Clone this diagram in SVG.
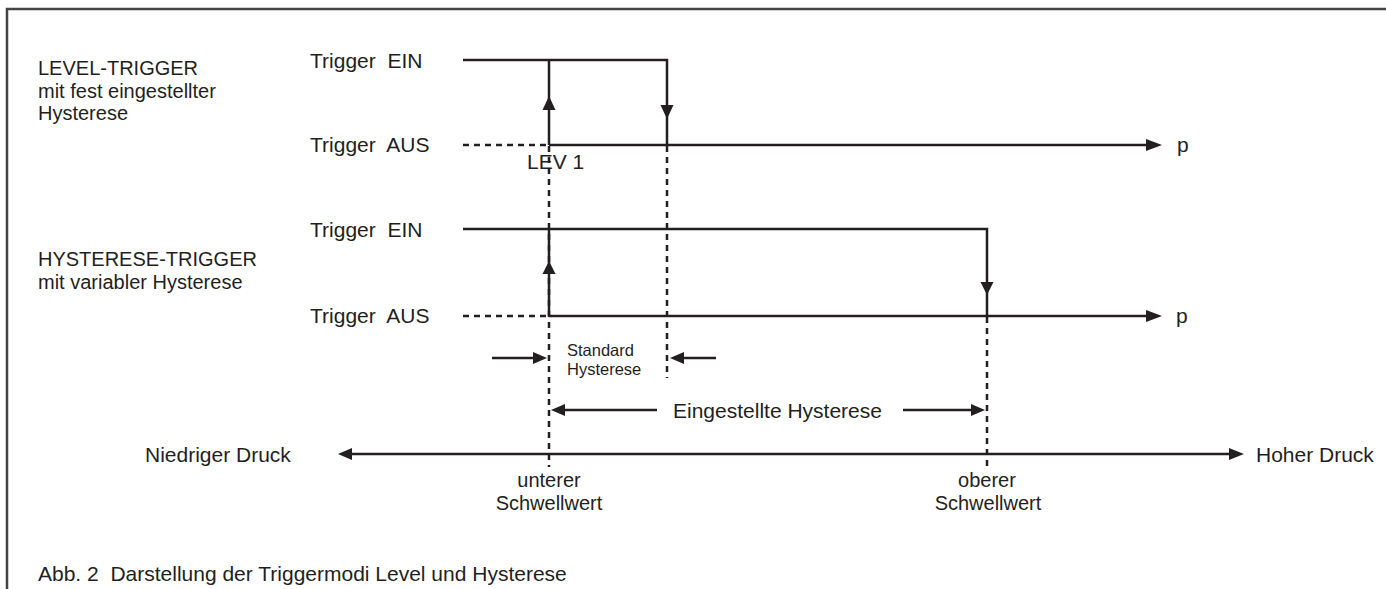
<svg xmlns="http://www.w3.org/2000/svg" width="1386" height="589" viewBox="0 0 1386 589">
<style>
text{font-family:"Liberation Sans",Arial,sans-serif;font-size:21px;fill:#231f20;white-space:pre}
.st{font-size:20px}
.sm{font-size:16.5px}
.mid{text-anchor:middle}
.ln{stroke:#231f20;stroke-width:2.5;fill:none}
.ds{stroke:#231f20;stroke-width:2.5;fill:none;stroke-dasharray:6 5}
.ah{fill:#231f20;stroke:none}
.frame{stroke:#444;stroke-width:2.5;fill:none}
</style>
<rect width="1386" height="589" fill="#fff"/>
<path class="frame" d="M7,589 L7,9 L1386,9"/>
<g id="level-label">
<text class="st" x="38" y="75">LEVEL-TRIGGER</text>
<text class="st" x="38" y="97.5">mit fest eingestellter</text>
<text class="st" x="38" y="120">Hysterese</text>
</g>
<g id="level-ein"><text x="310" y="68">Trigger  EIN</text></g>
<g id="level-aus"><text x="310" y="152">Trigger  AUS</text></g>
<g id="hyst-label">
<text class="st" x="38" y="266">HYSTERESE-TRIGGER</text>
<text class="st" x="38" y="288.5">mit variabler Hysterese</text>
</g>
<g id="hyst-ein"><text x="310" y="237">Trigger  EIN</text></g>
<g id="hyst-aus"><text x="310" y="323">Trigger  AUS</text></g>
<g id="lev1"><text x="527" y="169">LEV 1</text></g>
<g id="p1"><text x="1177" y="152">p</text></g>
<g id="p2"><text x="1176" y="323">p</text></g>
<g id="std"><text class="sm" x="567" y="356">Standard</text><text class="sm" x="567" y="375">Hysterese</text></g>
<g id="eing"><text x="673" y="418">Eingestellte Hysterese</text></g>
<g id="niedrig"><text x="145" y="462">Niedriger Druck</text></g>
<g id="hoch"><text x="1256" y="462">Hoher Druck</text></g>
<g id="unterer"><text class="st mid" x="549" y="487">unterer</text><text class="st mid" x="549" y="509.5">Schwellwert</text></g>
<g id="oberer"><text class="st mid" x="987" y="487">oberer</text><text class="st mid" x="988" y="509.5">Schwellwert</text></g>
<g id="caption"><text x="38" y="581">Abb. 2  Darstellung der Triggermodi Level und Hysterese</text></g>
<g id="connectors">
<path class="ln" d="M463,60 L667,60 L667,145"/>
<path class="ln" d="M549,145 L549,60"/>
<polygon class="ah" points="542.5,110 555.5,110 549,96"/>
<polygon class="ah" points="660.5,105 673.5,105 667,119"/>
<path class="ln" d="M549,145 L1148,145"/>
<polygon class="ah" points="1146,139 1162,145 1146,151"/>
<path class="ds" d="M463,145 L549,145"/>
<path class="ln" d="M463,229 L987,229 L987,316"/>
<path class="ln" d="M549,316 L549,229"/>
<polygon class="ah" points="542.5,274 555.5,274 549,261"/>
<polygon class="ah" points="980.5,282 993.5,282 987,295"/>
<path class="ln" d="M549,316 L1148,316"/>
<polygon class="ah" points="1146,310 1162,316 1146,322"/>
<path class="ds" d="M463,316 L549,316"/>
<path class="ds" d="M549,146 L549,467"/>
<path class="ds" d="M667,146 L667,378"/>
<path class="ds" d="M987,317 L987,467"/>
<path class="ln" d="M492,358 L534,358"/>
<polygon class="ah" points="533,352 547,358 533,364"/>
<path class="ln" d="M716,358 L683,358"/>
<polygon class="ah" points="684,352 670,358 684,364"/>
<path class="ln" d="M657,410 L564,410"/>
<polygon class="ah" points="565,404 551,410 565,416"/>
<path class="ln" d="M903,410 L972,410"/>
<polygon class="ah" points="971,404 985,410 971,416"/>
<path class="ln" d="M351,454 L1231,454"/>
<polygon class="ah" points="352,448 338,454 352,460"/>
<polygon class="ah" points="1229,448 1244,454 1229,460"/>
</g>
</svg>
